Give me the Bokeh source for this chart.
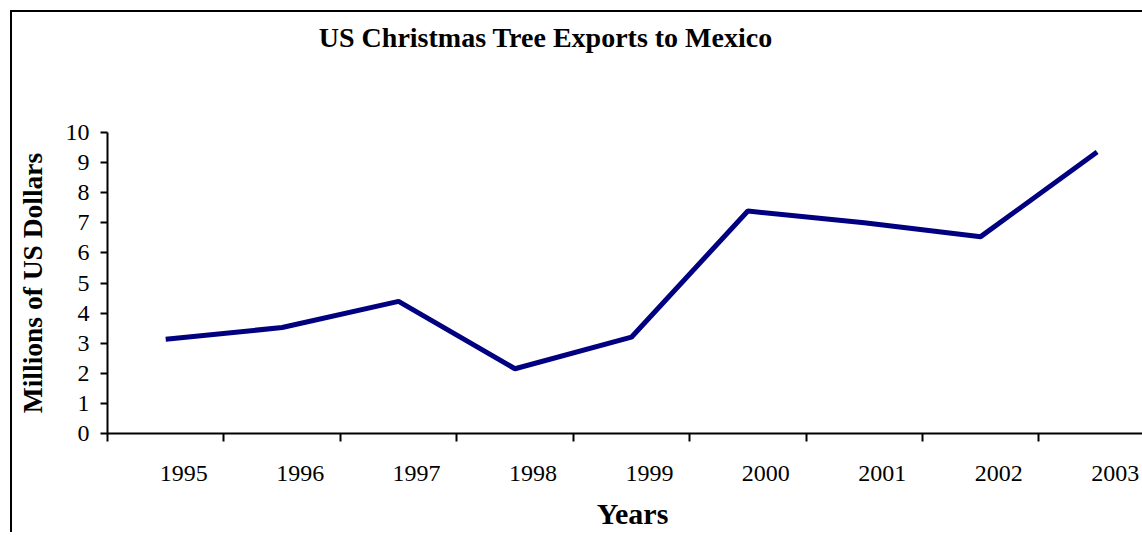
from bokeh.plotting import figure
from bokeh.models import Range1d, FixedTicker, Div
from bokeh.layouts import column
from bokeh.embed import file_html
from bokeh.resources import INLINE

years = ["1995", "1996", "1997", "1998", "1999", "2000", "2001", "2002", "2003"]
exports = [3.13, 3.52, 4.39, 2.15, 3.2, 7.39, 7.0, 6.54, 9.35]
y_ticks = [0, 1, 2, 3, 4, 5, 6, 7, 8, 9, 10]

TITLE = "US Christmas Tree Exports to Mexico"
XLABEL = "Years"
YLABEL = "Millions of US Dollars"

FONT = "Liberation Serif"
LABEL_SHIFT = 0.155
W = 1130

xs = list(range(len(years)))

p = figure(width=W, height=410, output_backend="svg", toolbar_location=None,
           x_range=Range1d(-0.5, 8.39), y_range=Range1d(0, 10),
           min_border_left=95, min_border_right=0, min_border_top=48, min_border_bottom=61)
p.margin = 0
p.outline_line_color = None
p.grid.visible = False
p.background_fill_color = "white"
p.border_fill_color = "white"

p.line(xs, exports, line_color="#000080", line_width=5)

# y axis
ya = p.yaxis[0]
ya.ticker = FixedTicker(ticks=y_ticks)
ya.major_tick_out = 7
ya.major_tick_in = 0
ya.minor_tick_out = 0
ya.minor_tick_in = 0
ya.axis_line_width = 2
ya.major_tick_line_width = 2
ya.axis_line_color = "black"
ya.major_tick_line_color = "black"
ya.major_label_text_font = FONT
ya.major_label_text_font_size = "24px"
ya.major_label_text_color = "black"
ya.major_label_standoff = 11
ya.axis_label = YLABEL
ya.axis_label_text_font = FONT
ya.axis_label_text_font_size = "27.5px"
ya.axis_label_text_font_style = "bold"
ya.axis_label_text_color = "black"
ya.axis_label_standoff = 15

# x axis: labels shifted right of the category centres, tick marks at boundaries
xa = p.xaxis[0]
label_pos = [i + LABEL_SHIFT for i in xs]
bounds = [i - 0.5 for i in xs] + [len(xs) - 0.5]
xa.ticker = FixedTicker(ticks=label_pos, minor_ticks=bounds)
xa.major_label_overrides = {lp: y for lp, y in zip(label_pos, years)}
xa.major_tick_out = 0
xa.major_tick_in = 0
xa.minor_tick_out = 8
xa.minor_tick_in = 0
xa.minor_tick_line_width = 2
xa.minor_tick_line_color = "black"
xa.axis_line_width = 2
xa.axis_line_color = "black"
xa.major_label_text_font = FONT
xa.major_label_text_font_size = "24px"
xa.major_label_text_color = "black"
xa.major_label_standoff = 24

base_css = ("display:block; box-sizing:border-box; width:%dpx; font-family:'Liberation Serif'; "
            "font-weight:bold; line-height:28px; color:black; text-align:center; white-space:nowrap;" % W)
title_div = Div(text=f'<div style="{base_css} font-size:28px; padding-top:12px; padding-right:63px;">{TITLE}</div>',
                width=W, height=72, margin=0)
xlabel_div = Div(text=f'<div style="{base_css} font-size:30px; padding-top:6px; padding-left:111px;">{XLABEL}</div>',
                 width=W, height=38, margin=0)

layout = column(title_div, p, xlabel_div, spacing=0)
layout.styles = {"border-left": "2px solid black", "border-top": "2px solid black",
                 "margin-left": "10px", "margin-top": "10px"}

open("out.html", "w").write(file_html(layout, INLINE))
